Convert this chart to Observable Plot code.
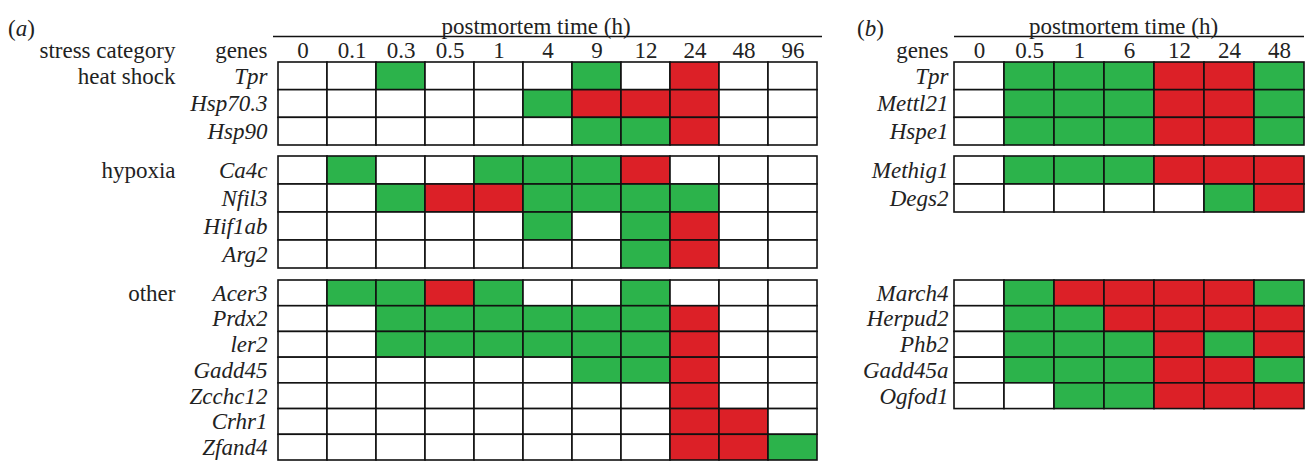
<!DOCTYPE html>
<html><head><meta charset="utf-8">
<script src="https://cdn.jsdelivr.net/npm/d3@7"></script>
<script src="https://cdn.jsdelivr.net/npm/@observablehq/plot@0.6"></script>
<style>
body{margin:0;background:#fff;}
#wrap{position:relative;width:1309px;height:461px;overflow:hidden;background:#fff;font-family:Liberation Serif,serif;}
#wrap svg{position:absolute;top:0;}
.tag{position:absolute;font-size:23px;color:#222;line-height:1;}
</style></head><body><div id="wrap"></div>
<script>
// ---- data ----
const timesA = ["0","0.1","0.3","0.5","1","4","9","12","24","48","96"];
const categoriesA = ["heat shock","hypoxia","other"];
const genesA = [
  ["Tpr","Hsp70.3","Hsp90"],
  ["Ca4c","Nfil3","Hif1ab","Arg2"],
  ["Acer3","Prdx2","ler2","Gadd45","Zcchc12","Crhr1","Zfand4"]
];
// W = no change, G = green, R = red ; one string per gene, one letter per time
const statesA = [
  ["WWGWWWGWRWW","WWWWWGRRRWW","WWWWWWGGRWW"],
  ["WGWWGGGRWWW","WWGRRGGGGWW","WWWWWGWGRWW","WWWWWWWGRWW"],
  ["WGGRGWWGWWW","WWGGGGGGRWW","WWGGGGGGRWW","WWWWWWGGRWW","WWWWWWWWRWW","WWWWWWWWRRW","WWWWWWWWRRG"]
];
const timesB = ["0","0.5","1","6","12","24","48"];
const genesB = [
  ["Tpr","Mettl21","Hspe1"],
  ["Methig1","Degs2"],
  ["March4","Herpud2","Phb2","Gadd45a","Ogfod1"]
];
const statesB = [
  ["WGGGRRG","WGGGRRG","WGGGRRG"],
  ["WGGGRRR","WWWWWGR"],
  ["WGRRRRG","WGGRRRR","WGGGRGR","WGGGRRG","WWGGRRR"]
];
const xTitle = "postmortem time (h)";

// ---- layout helpers ----
const FONT = "Liberation Serif";
const FS = 23;
const gap = 0.4;
const groupSizes = genesA.map(g => g.length);
const groupStart = [];
{ let s = 0; groupSizes.forEach((n,i) => { groupStart.push(s); s += n + gap; }); }
// piecewise y scale: group boundaries -> pixel positions
const yDomain = [-2.3, 0];
const yRange = [0, 62, 145, 156, 268, 280, 460];
groupSizes.forEach((n,i) => { if (i>0) yDomain.push(groupStart[i]); yDomain.push(groupStart[i]+n); });

const colorScale = {domain: ["W","G","R"], range: ["#ffffff","#2cb34b","#dc2027"]};

function build(times, genes, states) {
  const cells = [], labels = [];
  genes.forEach((grp, g) => grp.forEach((gene, i) => {
    const top = groupStart[g] + i;
    labels.push({gene, y: top + 0.5, group: g, first: i === 0});
    times.forEach((t, j) => cells.push({gene, time: t, state: states[g][i][j], y1: top, y2: top + 1}));
  }));
  return {cells, labels};
}

function panel({times, genes, states, width, marginLeft, marginRight, categories, titleDx}) {
  const {cells, labels} = build(times, genes, states);
  const T = {fontSize: FS, fontFamily: FONT, fill: "#222"};
  const marks = [
    Plot.barY(cells, {x: "time", y1: "y1", y2: "y2", fill: "state", stroke: "#111", strokeWidth: 1.6}),
    Plot.text(times, {...T, x: d => d, y: -0.43, textAnchor: "middle"}),
    Plot.ruleY([-0.965], {stroke: "#111", strokeWidth: 1.3}),
    Plot.text([xTitle], {...T, frameAnchor: "top", y: -1.65, dx: titleDx}),
    Plot.text(labels, {...T, y: "y", text: "gene", frameAnchor: "left", textAnchor: "end", dx: -6, fontStyle: "italic"}),
    Plot.text(["genes"], {...T, y: -0.43, frameAnchor: "left", textAnchor: "end", dx: -6})
  ];
  if (categories) {
    marks.push(Plot.text(labels.filter(d => d.first), {...T, y: "y", text: d => categories[d.group], frameAnchor: "left", textAnchor: "end", dx: -98}));
    marks.push(Plot.text(["stress category"], {...T, y: -0.43, frameAnchor: "left", textAnchor: "end", dx: -98}));
  }
  const svg = Plot.plot({
    width, height: 461,
    marginLeft, marginRight, marginTop: 0, marginBottom: 0,
    style: {fontSize: FS + "px", color: "#222", background: "transparent", overflow: "visible"},
    x: {type: "band", domain: times, padding: 0, axis: null},
    y: {type: "linear", domain: yDomain, range: yRange, axis: null},
    color: colorScale,
    marks
  });
  svg.setAttribute("font-family", FONT);
  svg.style.setProperty("font-family", FONT);
  svg.querySelectorAll("g, text").forEach(el => {
    if (el.hasAttribute("font-family") || el.tagName === "text") {
      el.setAttribute("font-family", FONT);
      el.style.setProperty("font-family", FONT, "important");
    }
  });
  return svg;
}

const wrap = document.getElementById("wrap");
const a = panel({times: timesA, genes: genesA, states: statesA, width: 840, marginLeft: 273, marginRight: 18, categories: categoriesA, titleDx: -12});
a.style.left = "0px";
wrap.appendChild(a);
const b = panel({times: timesB, genes: genesB, states: statesB, width: 469, marginLeft: 114, marginRight: 5, titleDx: -6});
b.style.left = "840px";
wrap.appendChild(b);
function tag(letter, left) {
  const d = document.createElement("div");
  d.className = "tag";
  d.innerHTML = "(<i>" + letter + "</i>)";
  d.style.left = left + "px"; d.style.top = "17px";
  wrap.appendChild(d);
}
tag("a", 8);
tag("b", 857);
</script></body></html>
